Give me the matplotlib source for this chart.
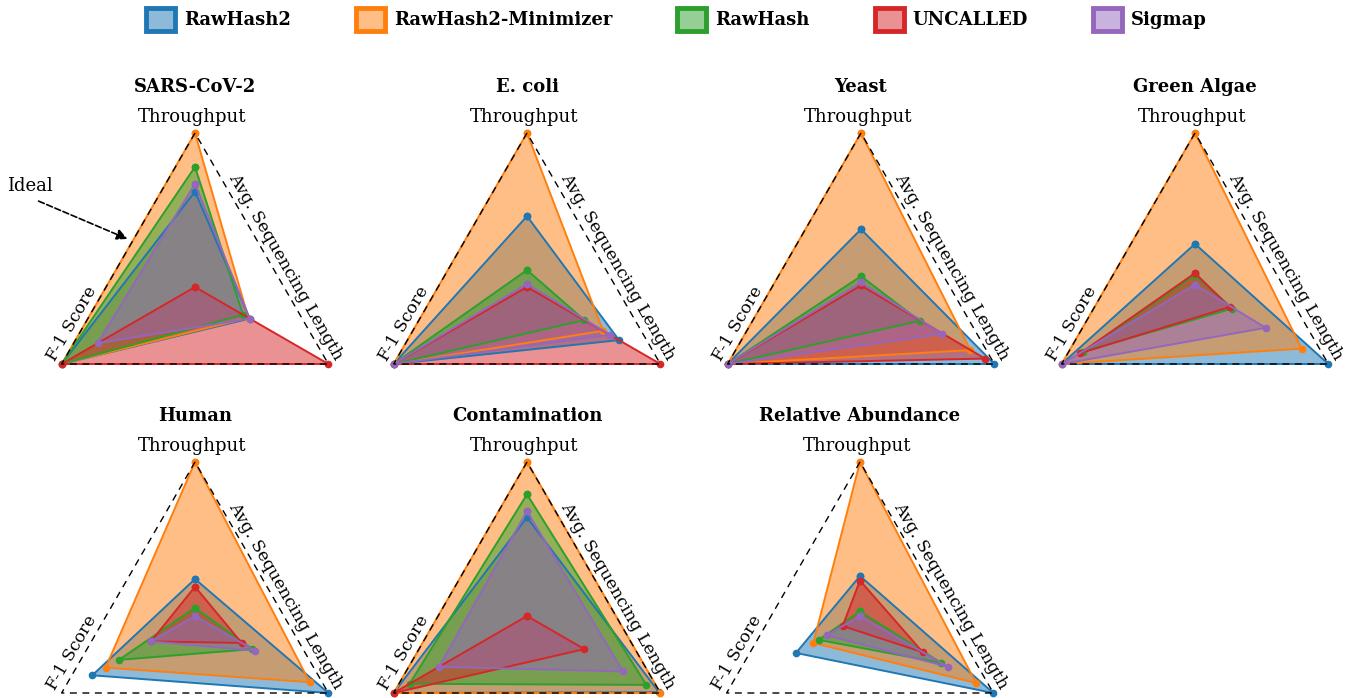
import numpy as np
import matplotlib.pyplot as plt
from matplotlib.patches import Patch
from matplotlib.colors import to_rgba

plt.rcParams["font.family"] = "DejaVu Serif"

tools = ["RawHash2", "RawHash2-Minimizer", "RawHash", "UNCALLED", "Sigmap"]
colors = ["#1f77b4", "#ff7f0e", "#2ca02c", "#d62728", "#9467bd"]

datasets = ["SARS-CoV-2", "E. coli", "Yeast", "Green Algae",
            "Human", "Contamination", "Relative Abundance"]
metrics = ["Throughput", "F-1 Score", "Avg. Sequencing Length"]

# one row per dataset, one value per tool (normalised, 1 = ideal)
throughput = [
    [0.62, 1.00, 0.78, 0.00, 0.67],
    [0.46, 1.00, 0.11, 0.00, 0.02],
    [0.375, 1.00, 0.07, 0.01, 0.03],
    [0.28, 1.00, 0.08, 0.09, 0.015],
    [0.24, 1.00, 0.054, 0.19, 0.00],
    [0.64, 1.00, 0.79, 0.00, 0.68],
    [0.26, 1.00, 0.03, 0.23, 0.00],
]
f1_score = [
    [1.00, 1.00, 1.00, 1.00, 0.73],
    [1.00, 1.00, 1.00, 1.00, 1.00],
    [1.00, 1.00, 1.00, 1.00, 1.00],
    [1.00, 1.00, 0.84, 0.86, 1.00],
    [0.77, 0.67, 0.57, 0.33, 0.33],
    [1.00, 1.00, 0.88, 1.00, 0.66],
    [0.48, 0.35, 0.31, 0.13, 0.25],
]
seq_length = [
    [0.41, 0.40, 0.36, 1.00, 0.41],
    [0.69, 0.57, 0.43, 1.00, 0.62],
    [1.00, 0.82, 0.44, 0.93, 0.61],
    [1.00, 0.80, 0.28, 0.26, 0.53],
    [1.00, 0.86, 0.43, 0.35, 0.45],
    [0.99, 1.00, 0.895, 0.43, 0.72],
    [1.00, 0.87, 0.61, 0.47, 0.66],
]

W, H = 1353, 698
R = 154
centers = [(195, 287), (527, 287), (861, 287), (1195, 287),
           (195, 616), (527, 616), (860, 616)]

fig = plt.figure(figsize=(W / 100, H / 100), dpi=100)

angles = np.linspace(0, 2 * np.pi, 3, endpoint=False)
closed = np.append(angles, angles[0])

for i, name in enumerate(datasets):
    cx, cy = centers[i]
    ax = fig.add_axes([(cx - R) / W, (H - cy - R) / H, 2 * R / W, 2 * R / H],
                      projection="polar")
    ax.set_theta_offset(np.pi / 2)
    ax.set_ylim(0, 1)
    ax.axis("off")

    for j, tool in enumerate(tools):
        vals = [throughput[i][j], f1_score[i][j], seq_length[i][j]]
        vals = vals + vals[:1]
        ax.fill(closed, vals, color=colors[j], alpha=0.5, clip_on=False,
                linewidth=0)
        ax.plot(closed, vals, color=colors[j], linewidth=1.4, marker="o",
                markersize=4.5, clip_on=False)

    # ideal triangle, drawn on top
    ax.plot(closed, [1, 1, 1, 1], color="black", linestyle=(0, (5, 4)),
            linewidth=1, clip_on=False, zorder=5)

    ax.text(0.5, 1.15, name, transform=ax.transAxes, ha="center",
            va="center", fontsize=13, fontweight="bold")
    ax.text(0.49, 1.052, metrics[0], transform=ax.transAxes, ha="center",
            va="center", fontsize=13)
    ax.text(0.1, 0.38, metrics[1], transform=ax.transAxes, ha="center",
            va="center", fontsize=12.3, rotation=60, rotation_mode="anchor")
    ax.text(0.795, 0.565, metrics[2], transform=ax.transAxes, ha="center",
            va="center", fontsize=12.3, rotation=-60, rotation_mode="anchor")

# "Ideal" pointer on the first chart
fig.text(30 / W, 1 - 186 / H, "Ideal", ha="center", va="center", fontsize=13)
fig.add_artist(plt.Annotation(
    "", xy=(130 / W, 1 - 240 / H), xycoords="figure fraction",
    xytext=(36 / W, 1 - 200 / H), textcoords="figure fraction",
    arrowprops=dict(arrowstyle="-|>", linestyle="--", color="black",
                    linewidth=1.2, mutation_scale=16)))

handles = [Patch(facecolor=to_rgba(c, 0.5), edgecolor=c, linewidth=3.5)
           for c in colors]
fig.legend(handles, tools, loc="upper center", bbox_to_anchor=(0.5, 1.012),
           ncol=5, frameon=False, prop={"weight": "bold", "size": 13},
           handlelength=1.6, handleheight=1.6, handletextpad=0.5,
           columnspacing=3.6)

fig.savefig("out.png", dpi=100)
